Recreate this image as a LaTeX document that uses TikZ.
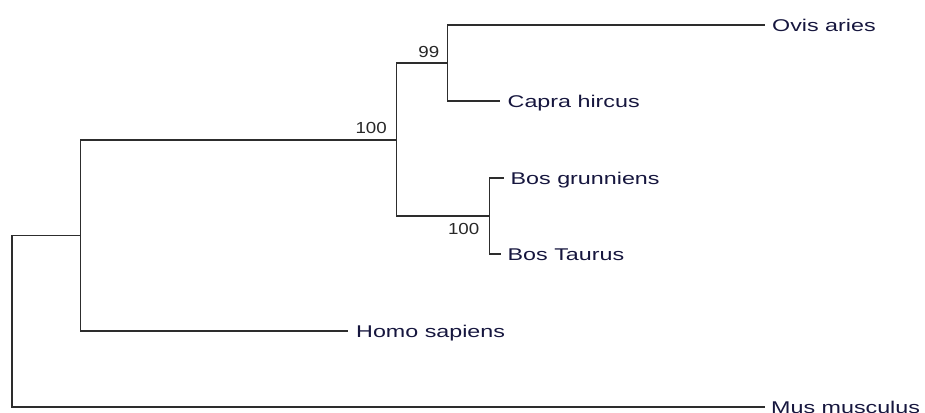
\documentclass[tikz,border=0pt]{standalone}
\usepackage{fontspec}
\setmainfont{Liberation Sans}
\newfontfamily\labfont[FakeStretch=1.37]{Liberation Sans}
\newfontfamily\numfont[FakeStretch=1.17]{Liberation Sans}
\definecolor{labcol}{RGB}{22,22,62}
\definecolor{numcol}{RGB}{40,40,40}
\definecolor{edgecol}{RGB}{45,45,45}
\begin{document}
\begin{tikzpicture}[x=1pt,y=-1pt,
  taxon/.style={anchor=west,inner xsep=0pt,inner ysep=0pt,text height=12.2pt,text depth=0pt,
    font=\labfont\fontsize{17pt}{17pt}\selectfont,text=labcol},
  support/.style={inner sep=0pt,font=\numfont\fontsize{16pt}{16pt}\selectfont,text=numcol},
  edge/.style={draw=edgecol,line width=1.5pt,line cap=rect}]
\useasboundingbox (0,0) rectangle (925,412);
% branch points
\coordinate (R) at (12,321);
\coordinate (A) at (80.5,235.5);
\coordinate (B) at (396.5,140);
\coordinate (C) at (447.5,63);
\coordinate (D) at (489.5,216);
% taxa
\node[taxon] (ovis)  at (772,25) {Ovis aries};
\node[taxon] (capra) at (507.5,101) {Capra hircus};
\node[taxon] (grun)  at (510.5,178) {Bos grunniens};
\node[taxon] (taur)  at (507.5,254) {Bos Taurus};
\node[taxon] (homo)  at (356,331) {Homo sapiens};
\node[taxon] (mus)   at (771,407) {Mus musculus};
% edges
\draw[edge] (A) -| (R) |- ([xshift=-7pt]mus.west);
\draw[edge] (B) -| (A) |- ([xshift=-8.3pt]homo.west);
\draw[edge] (C) -| (B) |- (D);
\draw[edge] ([xshift=-8pt]ovis.west) -| (C) |- ([xshift=-8.5pt]capra.west);
\draw[edge] ([xshift=-7.5pt]grun.west) -| (D) |- ([xshift=-7.5pt]taur.west);
% support values
\node[support,anchor=base east] (s99)   at ([xshift=-8pt,yshift=6pt]C) {99};
\node[support,anchor=base east] (s100a) at ([xshift=-9.5pt,yshift=7pt]B) {100};
\node[support,anchor=north east] (s100b) at ([xshift=-10pt,yshift=-7pt]D) {100};
\end{tikzpicture}
\end{document}
